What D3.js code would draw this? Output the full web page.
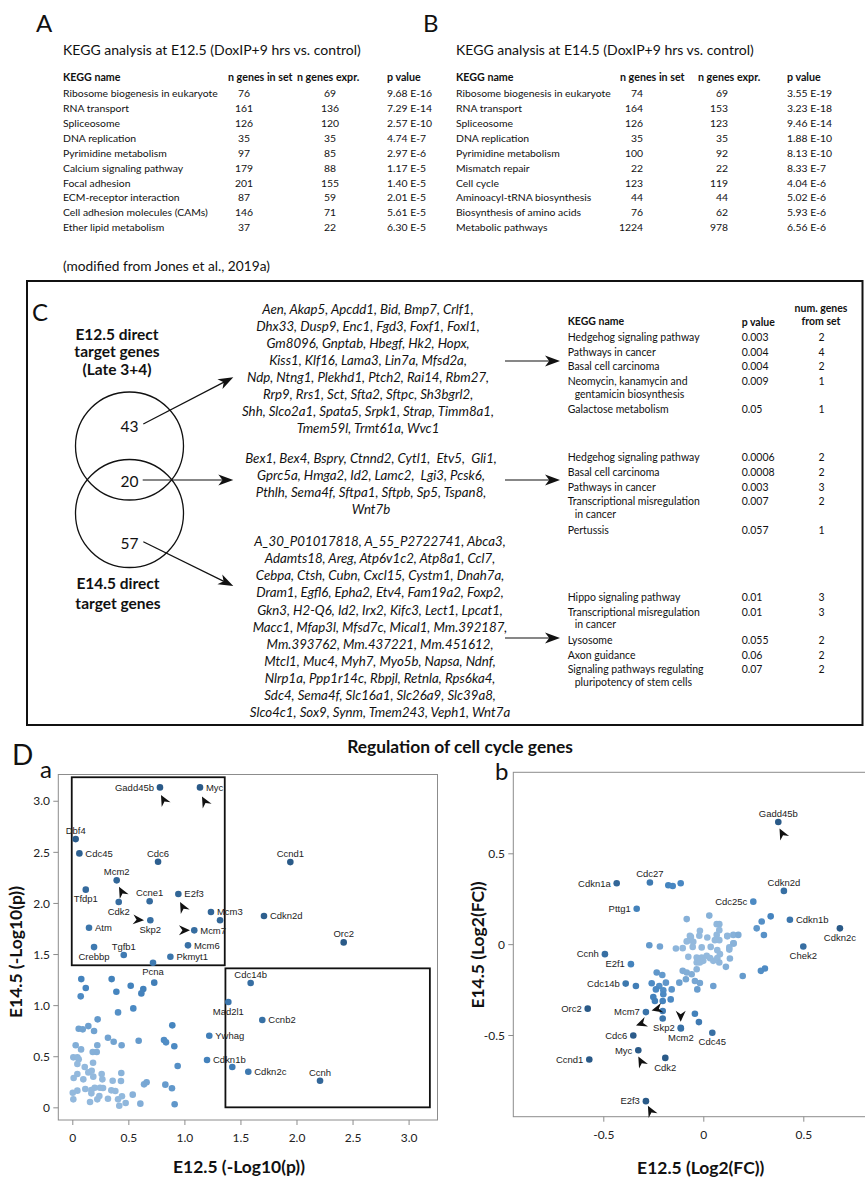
<!DOCTYPE html>
<html><head><meta charset="utf-8">
<script src="https://cdn.jsdelivr.net/npm/d3@7"></script>
<style>body{margin:0;background:#fff} svg{display:block}</style>
</head><body><svg id="fig" width="865" height="1177"></svg>
<script>
// ---------------- DATA ----------------
const keggHeader = ["KEGG name", "n genes in set", "n genes expr.", "p value"];
const keggA_title = "KEGG analysis at E12.5 (DoxIP+9 hrs vs. control)";
const keggA_names = ["Ribosome biogenesis in eukaryote","RNA transport","Spliceosome","DNA replication","Pyrimidine metabolism","Calcium signaling pathway","Focal adhesion","ECM-receptor interaction","Cell adhesion molecules (CAMs)","Ether lipid metabolism"];
const keggA_inSet = [76,161,126,35,97,179,201,87,146,37];
const keggA_expr = [69,136,120,35,85,88,155,59,71,22];
const keggA_p = ["9.68 E-16","7.29 E-14","2.57 E-10","4.74 E-7","2.97 E-6","1.17 E-5","1.40 E-5","2.01 E-5","5.61 E-5","6.30 E-5"];
const keggB_title = "KEGG analysis at E14.5 (DoxIP+9 hrs vs. control)";
const keggB_names = ["Ribosome biogenesis in eukaryote","RNA transport","Spliceosome","DNA replication","Pyrimidine metabolism","Mismatch repair","Cell cycle","Aminoacyl-tRNA biosynthesis","Biosynthesis of amino acids","Metabolic pathways"];
const keggB_inSet = [74,164,126,35,100,22,123,44,76,1224];
const keggB_expr = [69,153,123,35,92,22,119,44,62,978];
const keggB_p = ["3.55 E-19","3.23 E-18","9.46 E-14","1.88 E-10","8.13 E-10","8.33 E-7","4.04 E-6","5.02 E-6","5.93 E-6","6.56 E-6"];
const sourceNote = "(modified from Jones et al., 2019a)";

const vennTop = ["E12.5 direct", "target genes", "(Late 3+4)"];
const vennBottom = ["E14.5 direct", "target genes"];
const vennCounts = [43, 20, 57];
const genesE125only = ["Aen, Akap5, Apcdd1, Bid, Bmp7, Crlf1,","Dhx33, Dusp9, Enc1, Fgd3, Foxf1, Foxl1,","Gm8096, Gnptab, Hbegf, Hk2, Hopx,","Kiss1, Klf16, Lama3, Lin7a, Mfsd2a,","Ndp, Ntng1, Plekhd1, Ptch2, Rai14, Rbm27,","Rrp9, Rrs1, Sct, Sfta2, Sftpc, Sh3bgrl2,","Shh, Slco2a1, Spata5, Srpk1, Strap, Timm8a1,","Tmem59l, Trmt61a, Wvc1"];
const genesShared = ["Bex1, Bex4, Bspry, Ctnnd2, Cytl1,  Etv5,  Gli1,","Gprc5a, Hmga2, Id2, Lamc2,  Lgi3, Pcsk6,","Pthlh, Sema4f, Sftpa1, Sftpb, Sp5, Tspan8,","Wnt7b"];
const genesE145only = ["A_30_P01017818, A_55_P2722741, Abca3,","Adamts18, Areg, Atp6v1c2, Atp8a1, Ccl7,","Cebpa, Ctsh, Cubn, Cxcl15, Cystm1, Dnah7a,","Dram1, Egfl6, Epha2, Etv4, Fam19a2, Foxp2,","Gkn3, H2-Q6, Id2, Irx2, Kifc3, Lect1, Lpcat1,","Macc1, Mfap3l, Mfsd7c, Mical1, Mm.392187,","Mm.393762, Mm.437221, Mm.451612,","Mtcl1, Muc4, Myh7, Myo5b, Napsa, Ndnf,","Nlrp1a, Ppp1r14c, Rbpjl, Retnla, Rps6ka4,","Sdc4, Sema4f, Slc16a1, Slc26a9, Slc39a8,","Slco4c1, Sox9, Synm, Tmem243, Veph1, Wnt7a"];
const enrichHeader = ["KEGG name", "p value", "num. genes", "from set"];
const enrich1_names = [["Hedgehog signaling pathway"],["Pathways in cancer"],["Basal cell carcinoma"],["Neomycin, kanamycin and","gentamicin biosynthesis"],["Galactose metabolism"]];
const enrich1_p = ["0.003","0.004","0.004","0.009","0.05"];
const enrich1_n = [2,4,2,1,1];
const enrich2_names = [["Hedgehog signaling pathway"],["Basal cell carcinoma"],["Pathways in cancer"],["Transcriptional misregulation","in cancer"],["Pertussis"]];
const enrich2_p = ["0.0006","0.0008","0.003","0.007","0.057"];
const enrich2_n = [2,2,3,2,1];
const enrich3_names = [["Hippo signaling pathway"],["Transcriptional misregulation","in cancer"],["Lysosome"],["Axon guidance"],["Signaling pathways regulating","pluripotency of stem cells"]];
const enrich3_p = ["0.01","0.01","0.055","0.06","0.07"];
const enrich3_n = [3,3,2,2,2];

const dTitle = "Regulation of cell cycle genes";
// panel a: -log10(p) at E12.5 (x) and E14.5 (y)
const aGenes = ["Gadd45b","Myc","Dbf4","Cdc45","Cdc6","Mcm2","Tfdp1","Ccne1","E2f3","Cdk2","Skp2","Mcm3","Mcm7","Atm","Tgfb1","Crebbp","Mcm6","Pkmyt1","Pcna","Cdc14b","Mad2l1","Ccnb2","Ywhag","Cdkn1b","Cdkn2c","Ccnh","Ccnd1","Cdkn2d","Orc2"];
const aGeneX = [0.782,1.139,0.03,0.063,0.765,0.396,0.12,0.69,0.946,0.414,0.696,1.237,1.088,0.149,0.459,0.194,1.032,0.875,0.72,1.591,1.392,1.695,1.222,1.202,1.57,2.21,1.945,1.71,2.421];
const aGeneY = [3.131,3.131,2.625,2.485,2.403,2.221,2.13,2.016,2.087,2.009,1.83,1.911,1.732,1.757,1.49,1.568,1.585,1.474,1.415,1.216,1.03,0.854,0.70,0.463,0.348,0.26,2.40,1.872,1.614];
const aOtherX = [1.318,1.427,0.08,0.351,0.521,0.633,0.731,0.12,0.393,0.616,0.075,0.408,0.544,0.226,0.892,0.057,0.093,0.143,0.194,0.318,0.369,0.592,0.818,0.836,0.91,0.03,0.078,0.223,0.44,0.182,0.218,0.009,0.045,0.057,0.045,0.185,0.111,0.94,0.045,0.012,0.143,0.173,0.187,0.098,0.262,0.268,0.36,0.274,0.247,0.2,0.17,0.116,0.045,0.004,0.17,0.241,0.223,0.009,0.158,0.318,0.348,0.384,0.434,0.437,0.408,0.419,0.476,0.443,0.539,0.607,0.64,0.663,0.83,0.889,0.913];
const aOtherY = [1.83,0.394,1.255,1.255,1.19,1.157,1.22,1.167,1.131,1.115,1.086,0.929,0.968,0.861,0.802,0.769,0.763,0.795,0.747,0.681,0.642,0.652,0.659,0.636,0.597,0.607,0.567,0.607,0.607,0.541,0.541,0.489,0.489,0.47,0.424,0.436,0.394,0.404,0.326,0.287,0.342,0.358,0.3,0.274,0.326,0.274,0.26,0.189,0.192,0.192,0.169,0.179,0.163,0.143,0.137,0.111,0.078,0.078,0.052,0.084,0.166,0.16,0.257,0.336,0.078,0.016,0.042,0.108,0.124,0.036,0.225,0.245,0.222,0.186,0.03];
const aBoxX0 = [-0.005, 1.366];
const aBoxX1 = [1.36, 3.19];
const aBoxY0 = [1.39, 0];
const aBoxY1 = [3.23, 1.36];
// panel b: log2(FC) at E12.5 (x) and E14.5 (y)
const bGenes = ["Gadd45b","Cdkn1a","Cdc27","Cdkn2d","Cdc25c","Pttg1","Cdkn1b","Cdkn2c","Chek2","Ccnh","E2f1","Cdc14b","Orc2","Mcm7","Cdc6","Skp2","Mcm2","Cdc45","Myc","Ccnd1","Cdk2","E2f3"];
const bGeneX = [0.375,-0.433,-0.267,0.403,0.25,-0.333,0.433,0.683,0.5,-0.492,-0.362,-0.388,-0.578,-0.287,-0.35,-0.113,-0.112,0.045,-0.325,-0.57,-0.19,-0.287];
const bGeneY = [0.672,0.335,0.339,0.293,0.234,0.195,0.134,0.087,-0.013,-0.055,-0.11,-0.217,-0.355,-0.374,-0.503,-0.46,-0.464,-0.488,-0.584,-0.635,-0.626,-0.864];
const bOtherX = [-0.175,-0.153,-0.113,-0.083,0.03,0.067,0.08,0.267,0.292,0.337,0.303,-0.017,-0.062,-0.02,0.02,0.067,0.08,0.12,0.15,0.175,-0.067,-0.083,-0.053,-0.008,0.037,0.07,0.15,0.13,0.13,-0.137,-0.103,-0.27,-0.217,-0.075,-0.033,-0.008,0.017,0.034,0,0.05,0.07,0.083,0.08,-0.033,-0.017,-0.033,-0.103,-0.083,-0.058,0.113,0.197,0.288,0.308,-0.233,-0.205,-0.337,-0.258,-0.22,-0.187,-0.158,-0.12,-0.087,-0.042,-0.017,0.05,-0.03,-0.237,-0.2,-0.2,-0.163,-0.25,-0.242,-0.203,-0.203,-0.042,-0.022,-0.203,0.133,0.08,0.058,0.12,0.152,-0.067,-0.05];
const bOtherY = [0.324,0.32,0.335,0.138,0.157,0.11,0.11,0.087,0.125,0.153,0.05,0.074,0.04,0.046,0.037,0.051,0.077,0.043,0.051,0.051,0.022,0.015,-0.015,-0.018,-0.015,-0.033,0.004,-0.018,-0.03,-0.024,-0.022,-0.006,-0.013,-0.07,-0.074,-0.074,-0.064,-0.077,-0.092,-0.092,-0.077,-0.055,-0.101,-0.101,-0.101,-0.138,-0.147,-0.156,-0.166,-0.125,-0.175,-0.147,-0.134,-0.156,-0.17,-0.23,-0.215,-0.23,-0.212,-0.249,-0.212,-0.193,-0.203,-0.214,-0.23,-0.249,-0.249,-0.254,-0.276,-0.304,-0.291,-0.313,-0.313,-0.368,-0.383,-0.429,-0.409,-0.079,0.022,0.022,0.046,0.004,0.046,0.013];
const axisTicksA = [0,0.5,1.0,1.5,2.0,2.5,3.0];
const axisTicksB = [-0.5,0,0.5];
const aXTitle = "E12.5 (-Log10(p))", aYTitle = "E14.5 (-Log10(p))";
const bXTitle = "E12.5 (Log2(FC))", bYTitle = "E14.5 (Log2(FC))";
const markedA = ["Gadd45b","Myc","Mcm2","E2f3","Skp2","Mcm7"];
const markedB = ["Gadd45b","Mcm7","Cdc6","Skp2","Myc","E2f3"];

// ---------------- DRAWING ----------------
const svg = d3.select("#fig");
svg.append("rect").attr("width",865).attr("height",1177).attr("fill","#fff");
const FONT = "Lato, 'Open Sans', sans-serif";
const LAB = "'Liberation Sans', Arial, sans-serif";
// font size that makes a string reach a target width
function fitSize(str, target, o = {}) {
  const t = svg.append("text").attr("font-family", o.family || FONT).attr("font-size", 100)
    .attr("font-weight", o.weight || "normal").attr("font-style", o.style || "normal").text(str);
  const w = t.node().getComputedTextLength(); t.remove();
  return +(100 * target / w).toFixed(2);
}
function txt(g, x, y, s, o = {}) {
  return g.append("text").attr("x", x).attr("y", y).attr("dy", o.dy ?? "0.35em")
    .attr("text-anchor", o.anchor || "start").attr("font-family", o.family || FONT)
    .attr("font-size", o.size || 11).attr("font-weight", o.weight || "normal")
    .attr("font-style", o.style || "normal").attr("fill", o.fill || "#111")
    .attr("transform", o.transform || null).text(s);
}
const S_TITLE = fitSize(keggA_title, 298);
const S_TAB = fitSize(keggA_names[0], 155);
const S_TABH = Math.min(S_TAB + 0.3, fitSize(keggHeader[1], 65, {weight:"bold"}));
const S_NOTE = fitSize(sourceNote, 207);
const S_VENN = Math.min(15.5, fitSize(vennTop[1], 103, {weight:"bold"}));
const S_NUM = Math.min(17, fitSize("43", 18));
const S_GENE = fitSize(genesE125only[6], 252, {style:"italic"});
const S_ENR = fitSize(enrich1_names[0][0], 132);
const S_DT = fitSize(dTitle, 226, {weight:"bold"});
const S_AX = fitSize(aXTitle, 132, {weight:"bold"});
const S_TICK = fitSize("3.0", 16.7);
const S_LAB = fitSize("Gadd45b", 39, {family:LAB});

// panel letters
txt(svg, 36, 32, "A", {size:24, dy:0});
txt(svg, 423, 32, "B", {size:24, dy:0});
txt(svg, 32, 321, "C", {size:24, dy:0});
txt(svg, 12, 765, "D", {size:28, dy:0});
txt(svg, 40, 778, "a", {size:24, dy:0});
txt(svg, 495, 780, "b", {size:24, dy:0});

// KEGG tables A and B
function keggTable(c, title, names, inSet, expr, pv) {
  txt(svg, c.nameX, 50, title, {size:S_TITLE});
  const hy = 77.3;
  txt(svg, c.nameX, hy, keggHeader[0], {weight:"bold", size:S_TABH});
  txt(svg, c.setX, hy, keggHeader[1], {weight:"bold", size:S_TABH});
  txt(svg, c.exprX, hy, keggHeader[2], {weight:"bold", size:S_TABH});
  txt(svg, c.pX, hy, keggHeader[3], {weight:"bold", size:S_TABH});
  names.forEach((n, i) => {
    const y = 93.3 + i * 14.93;
    txt(svg, c.nameX, y, n, {size:S_TAB});
    txt(svg, c.setV, y, inSet[i], {size:S_TAB, anchor:c.setAnchor});
    txt(svg, c.exprV, y, expr[i], {size:S_TAB, anchor:c.exprAnchor});
    txt(svg, c.pX, y, pv[i], {size:S_TAB});
  });
}
keggTable({nameX:63, setX:228, exprX:297, pX:387, setV:244, setAnchor:"middle", exprV:330, exprAnchor:"middle"},
  keggA_title, keggA_names, keggA_inSet, keggA_expr, keggA_p);
keggTable({nameX:456, setX:620, exprX:698, pX:787, setV:643, setAnchor:"end", exprV:728, exprAnchor:"end"},
  keggB_title, keggB_names, keggB_inSet, keggB_expr, keggB_p);
txt(svg, 63, 266, sourceNote, {size:S_NOTE});

// Panel C box
svg.append("rect").attr("x",27).attr("y",281).attr("width",835.5).attr("height",444)
  .attr("fill","none").attr("stroke","#111").attr("stroke-width",2);
vennTop.forEach((s,i)=> txt(svg, 117, 334.5 + i*17.5, s, {size:S_VENN, weight:"bold", anchor:"middle"}));
vennBottom.forEach((s,i)=> txt(svg, 118, 583.3 + i*20, s, {size:S_VENN, weight:"bold", anchor:"middle"}));
[446, 513.5].forEach(cy => svg.append("circle").attr("cx",129.5).attr("cy",cy).attr("r",54)
  .attr("fill","none").attr("stroke","#111").attr("stroke-width",1.3));
[426.7, 481.7, 543.3].forEach((cy,i)=> txt(svg, 129.5, cy, vennCounts[i], {size:S_NUM, anchor:"middle"}));

function arrow(x1, y1, x2, y2, L, W) {
  const len = Math.hypot(x2-x1, y2-y1);
  svg.append("line").attr("x1",x1).attr("y1",y1)
    .attr("x2",x2 - (x2-x1)/len*L*0.7).attr("y2",y2 - (y2-y1)/len*L*0.7)
    .attr("stroke","#111").attr("stroke-width",1.2);
  const ang = Math.atan2(y2-y1, x2-x1) * 180 / Math.PI;
  svg.append("path").attr("d", `M0,0 L${-L},${-W/2} L${-L*0.72},0 L${-L},${W/2} Z`)
    .attr("transform", `translate(${x2},${y2}) rotate(${ang})`).attr("fill","#111");
}
arrow(143.3, 424, 233.3, 377.3, 15, 11);
arrow(142.7, 480, 233.3, 480, 15, 11);
arrow(143.3, 541.7, 233.3, 586, 15, 11);
arrow(505, 361, 560, 361, 15, 11);
arrow(505, 480, 560, 480, 15, 11);
arrow(505, 638, 560, 638, 15, 11);

function geneList(lines, cx, y0) {
  lines.forEach((s,i)=> txt(svg, cx, y0 + i*17.05, s, {size:S_GENE, style:"italic", anchor:"middle"})
    .attr("xml:space","preserve"));
}
geneList(genesE125only, 368, 309.3);
geneList(genesShared, 371, 458.3);
geneList(genesE145only, 380, 541.7);

// enrichment tables
txt(svg, 821, 308, enrichHeader[2], {size:S_ENR, weight:"bold", anchor:"middle"});
txt(svg, 821, 321, enrichHeader[3], {size:S_ENR, weight:"bold", anchor:"middle"});
txt(svg, 567.7, 321.7, enrichHeader[0], {size:S_ENR, weight:"bold"});
txt(svg, 741.7, 322, enrichHeader[1], {size:S_ENR, weight:"bold"});
function enrichTable(names, pv, nv, y0) {
  let y = y0;
  names.forEach((lines, i) => {
    lines.forEach((s, j) => txt(svg, 567.7 + (j ? 7 : 0), y + j*12.8, s, {size:S_ENR}));
    txt(svg, 741.7, y, pv[i], {size:S_ENR});
    txt(svg, 821.5, y, nv[i], {size:S_ENR, anchor:"middle"});
    y += 14.6 + (lines.length - 1) * 14;
  });
}
enrichTable(enrich1_names, enrich1_p, enrich1_n, 337.3);
enrichTable(enrich2_names, enrich2_p, enrich2_n, 457.7);
enrichTable(enrich3_names, enrich3_p, enrich3_n, 597.3);

// Panel D
txt(svg, 460, 747.3, dTitle, {size:S_DT, weight:"bold", anchor:"middle"});
const LIGHT = "#93b9dd", MID = "#4686c1", DARK = "#2a5a88";

function scatter(c) {
  const g = svg.append("g");
  const x = d3.scaleLinear().domain(c.xDom).range(c.xRange);
  const y = d3.scaleLinear().domain(c.yDom).range(c.yRange);
  const col = d3.scaleLinear().domain(c.colDom).range([LIGHT, MID, DARK]).clamp(true);
  const F = c.frame;
  g.append("rect").attr("x",F[0]).attr("y",F[1]).attr("width",F[2]-F[0]).attr("height",F[3]-F[1])
    .attr("fill","none").attr("stroke","#8c8c8c").attr("stroke-width",1);
  const fmt = d => d === 0 ? "0" : d.toFixed(1);
  const ax = g.append("g").attr("transform",`translate(0,${F[3]})`)
    .call(d3.axisBottom(x).tickValues(c.ticks).tickFormat(fmt).tickSize(5).tickSizeOuter(0));
  const ay = g.append("g").attr("transform",`translate(${F[0]},0)`)
    .call(d3.axisLeft(y).tickValues(c.ticks).tickFormat(fmt).tickSize(5).tickSizeOuter(0));
  [ax, ay].forEach(a => { a.select(".domain").remove();
    a.selectAll(".tick line").attr("stroke","#8c8c8c");
    a.selectAll(".tick text").attr("font-family",FONT).attr("font-size",S_TICK).attr("fill","#222"); });
  ax.selectAll(".tick text").attr("y",17.7).attr("dy","0.35em");
  ay.selectAll(".tick text").attr("x",-8.3).attr("dy","0.35em");
  txt(g, c.xTitlePos[0], c.xTitlePos[1], c.xTitle, {size:S_AX, weight:"bold", anchor:"middle"});
  txt(g, 0, 0, c.yTitle, {size:S_AX, weight:"bold", anchor:"middle",
    transform:`translate(${c.yTitlePos[0]},${c.yTitlePos[1]}) rotate(-90)`});
  if (c.boxes) c.boxes.x0.forEach((v,i) => {
    const xa = x(v), xb = x(c.boxes.x1[i]), ya = y(c.boxes.y1[i]), yb = y(c.boxes.y0[i]);
    g.append("rect").attr("x",xa).attr("y",ya).attr("width",xb-xa).attr("height",yb-ya)
      .attr("fill","none").attr("stroke","#111").attr("stroke-width",1.8);
  });
  const others = c.ox.map((v,i)=>({x:v, y:c.oy[i]}));
  const genes = c.names.map((n,i)=>({name:n, x:c.gx[i], y:c.gy[i]}));
  const dist = d => Math.hypot(d.x, d.y);
  g.selectAll(".o").data(others).join("circle").attr("cx",d=>x(d.x)).attr("cy",d=>y(d.y))
    .attr("r",3.3).attr("fill",d=>col(dist(d)));
  g.selectAll(".gdot").data(genes).join("circle").attr("cx",d=>x(d.x)).attr("cy",d=>y(d.y))
    .attr("r",3.3).attr("fill",d=>col(dist(d)));
  genes.forEach(d => {
    const p = c.pos[d.name] || "r";
    const px = x(d.x), py = y(d.y);
    const o = {family:LAB, size:S_LAB, fill:"#222"};
    if (p === "r") txt(g, px + 6, py, d.name, o);
    else if (p === "l") txt(g, px - 6, py, d.name, {...o, anchor:"end"});
    else if (p === "t") txt(g, px, py - 8.5, d.name, {...o, anchor:"middle"});
    else txt(g, px, py + 9.3, d.name, {...o, anchor:"middle"});
  });
  c.marked.forEach(n => {
    const d = genes.find(e => e.name === n); const m = c.marks[n];
    g.append("path").attr("d","M0,0 L-11,-5 L-7.5,0 L-11,5 Z").attr("fill","#111")
      .attr("transform",`translate(${x(d.x)+m[0]},${y(d.y)+m[1]}) rotate(${m[2]})`);
  });
}
scatter({
  xDom:[-0.125, 3.258], xRange:[58.3, 437.5], yDom:[-0.124, 3.257], yRange:[1120, 774.5],
  frame:[58.3, 774.5, 437.5, 1120], ticks:axisTicksA, colDom:[0.45, 1.15, 2.7],
  xTitle:aXTitle, yTitle:aYTitle, xTitlePos:[239, 1166.7], yTitlePos:[16, 952],
  boxes:{x0:aBoxX0, x1:aBoxX1, y0:aBoxY0, y1:aBoxY1},
  ox:aOtherX, oy:aOtherY, names:aGenes, gx:aGeneX, gy:aGeneY,
  pos:{Gadd45b:"l",Myc:"r",Dbf4:"t",Cdc45:"r",Cdc6:"t",Mcm2:"t",Tfdp1:"b",Ccne1:"t",E2f3:"r",Cdk2:"b",Skp2:"b",
       Mcm3:"r",Mcm7:"r",Atm:"r",Tgfb1:"t",Crebbp:"b",Mcm6:"r",Pkmyt1:"r",Pcna:"b",Cdc14b:"t",Mad2l1:"b",
       Ccnb2:"r",Ywhag:"r",Cdkn1b:"r",Cdkn2c:"r",Ccnh:"t",Ccnd1:"t",Cdkn2d:"r",Orc2:"t"},
  marked:markedA,
  marks:{Gadd45b:[1,7.5,-118], Myc:[2,9,-118], Mcm2:[2.3,6.5,-118], E2f3:[1.7,8,-118], Skp2:[-6.3,0,5], Mcm7:[-4.3,0,0]}
});
scatter({
  xDom:[-0.95, 0.5], xRange:[513.3, 803.3], yDom:[-0.5, 0.5], yRange:[1035, 853.3],
  frame:[513.3, 772.3, 866, 1116.7], ticks:axisTicksB, colDom:[0.12, 0.36, 0.62],
  xTitle:bXTitle, yTitle:bYTitle, xTitlePos:[700.7, 1168.3], yTitlePos:[478, 945],
  ox:bOtherX, oy:bOtherY, names:bGenes, gx:bGeneX, gy:bGeneY,
  pos:{Gadd45b:"t",Cdkn1a:"l",Cdc27:"t",Cdkn2d:"t",Cdc25c:"l",Pttg1:"l",Cdkn1b:"r",Cdkn2c:"b",Chek2:"b",Ccnh:"l",
       E2f1:"l",Cdc14b:"l",Orc2:"l",Mcm7:"l",Cdc6:"l",Skp2:"l",Mcm2:"b",Cdc45:"b",Myc:"l",Ccnd1:"l",Cdk2:"b",E2f3:"l"},
  marked:markedB,
  marks:{Gadd45b:[1.2,6.5,-118], Mcm7:[5.7,-1.5,165], Cdc6:[2.7,-10,160], Skp2:[0,-6,90], Myc:[0,6.3,-118], E2f3:[2,4.7,-118]}
});
</script></body></html>
